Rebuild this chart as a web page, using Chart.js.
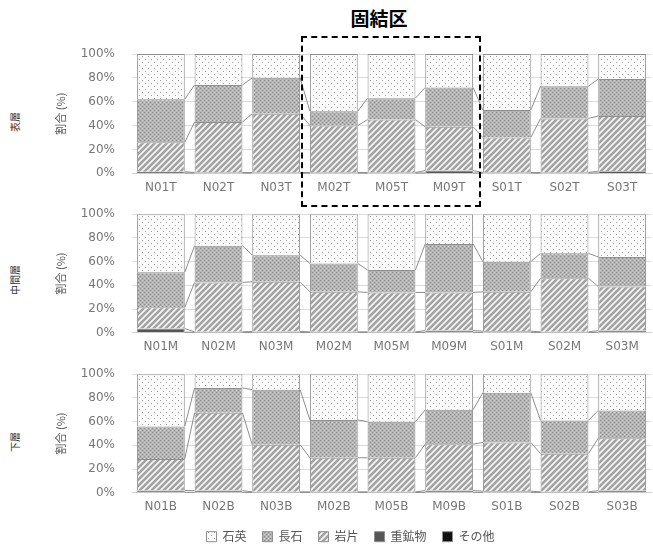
<!DOCTYPE html>
<html>
<head>
<meta charset="utf-8">
<script src="https://cdn.jsdelivr.net/npm/chart.js@4.4.1/dist/chart.umd.min.js"></script>
<style>
  body { margin:0; width:653px; height:544px; background:#fff; position:relative; overflow:hidden;
         font-family:"Noto Sans CJK JP", sans-serif; }
  canvas { position:absolute; left:0; }
  .layer { position:absolute; font-size:10px; color:#333; white-space:nowrap;
           transform:translate(-50%,-50%) rotate(-90deg); }
  #title { position:absolute; left:379px; top:17px; transform:translate(-50%,-50%);
           font-size:19px; font-weight:bold; color:#000; }
  #box { position:absolute; left:301px; top:36px; width:176px; height:167px;
         border:2.5px dashed #000; pointer-events:none; z-index:5; }
</style>
</head>
<body>
<div id="title">固結区</div>
<div id="box"></div>
<div class="layer" style="left:14px;top:122px">表層</div>
<div class="layer" style="left:14px;top:280px">中間層</div>
<div class="layer" style="left:14px;top:442px">下層</div>
<canvas id="c1" width="653" height="160" style="top:40px"></canvas>
<canvas id="c2" width="653" height="160" style="top:200px"></canvas>
<canvas id="c3" width="653" height="200" style="top:360px"></canvas>
<script>
// ── data ─────────────────────────────────────────────
const seriesNames = ['石英', '長石', '岩片', '重鉱物', 'その他'];
const yTicks = [0, 20, 40, 60, 80, 100];

const labelsT = ['N01T','N02T','N03T','M02T','M05T','M09T','S01T','S02T','S03T'];
const quartzT = [38, 26, 20, 48, 37, 28, 47, 27, 21];
const feldT   = [36, 31, 30, 12, 18, 33, 23, 27, 31];
const rockT   = [24.7, 42.3, 49.3, 39.3, 44.3, 36.7, 29.3, 45.3, 46.2];
const heavyT  = [1.0, 0.5, 0.5, 0.5, 0.5, 2.0, 0.5, 0.5, 1.5];
const otherT  = [0.3, 0.2, 0.2, 0.2, 0.2, 0.3, 0.2, 0.2, 0.3];

const labelsM = ['N01M','N02M','N03M','M02M','M05M','M09M','S01M','S02M','S03M'];
const quartzM = [49, 26.5, 34.5, 41.5, 47, 25, 40, 33, 36];
const feldM   = [29.5, 31, 22.5, 24, 19, 41, 25.5, 21, 25];
const rockM   = [18.0, 41.8, 42.0, 33.8, 33.3, 32.2, 33.2, 45.3, 37.2];
const heavyM  = [3.0, 0.5, 0.8, 0.5, 0.5, 1.5, 1.0, 0.5, 1.5];
const otherM  = [0.5, 0.2, 0.2, 0.2, 0.2, 0.3, 0.3, 0.2, 0.3];

const labelsB = ['N01B','N02B','N03B','M02B','M05B','M09B','S01B','S02B','S03B'];
const quartzB = [44, 11.5, 13, 38.5, 40, 30, 15.5, 39, 30.5];
const feldB   = [27.5, 21, 46.5, 32, 30.5, 29, 42, 28, 23.5];
const rockB   = [26.7, 65.7, 39.8, 28.8, 28.8, 39.2, 41.2, 32.3, 44.2];
const heavyB  = [1.5, 1.5, 0.5, 0.5, 0.5, 1.5, 1.0, 0.5, 1.5];
const otherB  = [0.3, 0.3, 0.2, 0.2, 0.2, 0.3, 0.3, 0.2, 0.3];

// ── fill patterns ────────────────────────────────────
function makePattern(size, draw) {
  const c = document.createElement('canvas');
  c.width = c.height = size;
  draw(c.getContext('2d'));
  return c.getContext('2d').createPattern(c, 'repeat');
}

const patQuartz = makePattern(6, g => {
  g.fillStyle = '#fbfbfb'; g.fillRect(0, 0, 6, 6);
  g.fillStyle = '#9c9c9c';
  g.fillRect(1, 1, 1, 1); g.fillRect(4, 4, 1, 1);
});
const patFeld = makePattern(4, g => {
  g.fillStyle = '#b4b4b4'; g.fillRect(0, 0, 4, 4);
  g.fillStyle = '#8a8a8a';
  g.fillRect(0, 0, 1, 1); g.fillRect(2, 2, 1, 1);
  g.fillStyle = '#d4d4d4';
  g.fillRect(2, 0, 1, 1); g.fillRect(0, 2, 1, 1);
});
const patRock = makePattern(6, g => {
  g.fillStyle = '#a2a2a2'; g.fillRect(0, 0, 6, 6);
  g.strokeStyle = '#f6f6f6'; g.lineWidth = 1.7;
  g.beginPath();
  g.moveTo(-1, 4); g.lineTo(4, -1);
  g.moveTo(2, 7); g.lineTo(7, 2);
  g.stroke();
});

// connecting lines between neighbouring bars
const seriesLines = {
  id: 'seriesLines',
  afterDatasetsDraw(chart) {
    const ctx = chart.ctx;
    ctx.save();
    ctx.strokeStyle = '#8e8e8e';
    ctx.lineWidth = 1;
    chart.data.datasets.forEach((ds, di) => {
      if (di === chart.data.datasets.length - 1) return;
      const bars = chart.getDatasetMeta(di).data;
      for (let i = 0; i < bars.length - 1; i++) {
        const a = bars[i], b = bars[i + 1];
        ctx.beginPath();
        ctx.moveTo(a.x + a.width / 2, a.y);
        ctx.lineTo(b.x - b.width / 2, b.y);
        ctx.stroke();
      }
    });
    ctx.restore();
  }
};

function makeChart(id, labels, q, f, r, h, o, opts) {
  const datasets = [
    { label: seriesNames[4], data: o, backgroundColor: '#111' },
    { label: seriesNames[3], data: h, backgroundColor: '#555' },
    { label: seriesNames[2], data: r, backgroundColor: patRock },
    { label: seriesNames[1], data: f, backgroundColor: patFeld },
    { label: seriesNames[0], data: q, backgroundColor: patQuartz },
  ].map(d => Object.assign(d, {
    borderColor: '#8e8e8e', borderWidth: 1,
    barPercentage: 0.83, categoryPercentage: 1,
  }));

  return new Chart(document.getElementById(id), {
    type: 'bar',
    data: { labels, datasets },
    plugins: [seriesLines],
    options: {
      responsive: false,
      animation: false,
      layout: { padding: { left: 50, right: 2, top: opts.top, bottom: opts.bottom || 0 } },
      plugins: {
        legend: {
          display: !!opts.legend,
          position: 'bottom',
          reverse: true,
          labels: {
            boxWidth: 10, boxHeight: 10, padding: 16,
            color: '#555', font: { size: 12, family: '"Noto Sans CJK JP", sans-serif' },
          },
        },
        tooltip: { enabled: false },
      },
      scales: {
        x: {
          stacked: true,
          grid: { display: false, drawTicks: false },
          border: { color: '#d0d0d0' },
          ticks: { color: '#777', padding: 7, font: { size: 12, family: 'DejaVu Sans' } },
          afterFit: s => { s.height = opts.xh; },
        },
        y: {
          stacked: true,
          min: 0, max: 100,
          afterBuildTicks: s => { s.ticks = yTicks.map(v => ({ value: v })); },
          grid: { color: '#dcdcdc', drawTicks: true, tickLength: 14, tickColor: 'rgba(0,0,0,0)' },
          border: { display: false },
          ticks: { color: '#777', padding: 3, font: { size: 12, family: 'DejaVu Sans' },
                   callback: v => v + '%' },
          title: { display: true, text: '割合 (%)', color: '#555',
                   font: { size: 11, family: '"Noto Sans CJK JP", sans-serif' } },
          afterFit: s => { s.width = 82; },
        },
      },
    },
  });
}

makeChart('c1', labelsT, quartzT, feldT, rockT, heavyT, otherT, { top: 14, xh: 26.7 });
makeChart('c2', labelsM, quartzM, feldM, rockM, heavyM, otherM, { top: 14.3, xh: 27.3 });
makeChart('c3', labelsB, quartzB, feldB, rockB, heavyB, otherB, { top: 14.3, xh: 22, bottom: 7.3, legend: true });
</script>
</body>
</html>
